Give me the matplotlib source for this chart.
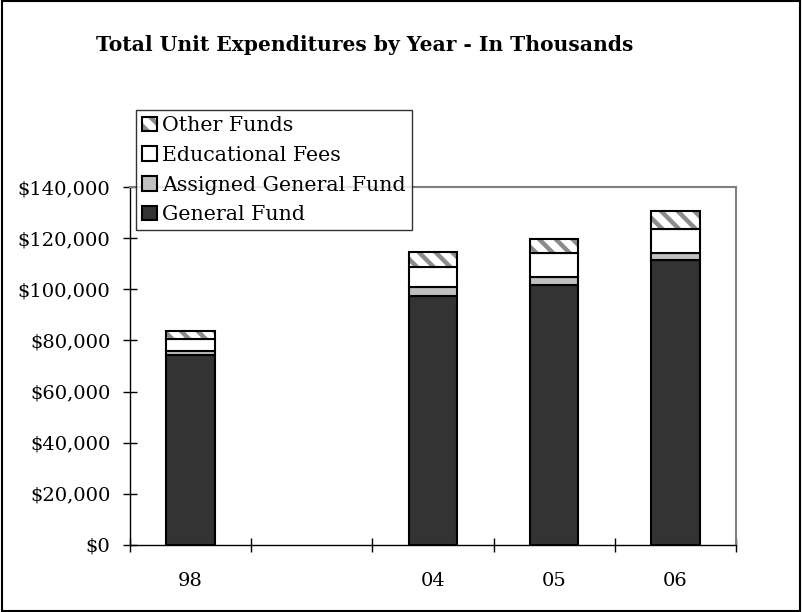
import matplotlib
matplotlib.use("Agg")
import matplotlib.pyplot as plt
import numpy as np
from matplotlib.patches import Patch, Rectangle
from matplotlib.ticker import FuncFormatter, FixedLocator

plt.rcParams['font.family'] = ['DejaVu Serif']
plt.rcParams['hatch.linewidth'] = 3.2

years = ["98", "", "04", "05", "06"]
general_fund = [74300, np.nan, 97500, 101700, 111500]
assigned_general_fund = [1600, np.nan, 3250, 3250, 2600]
educational_fees = [4700, np.nan, 7800, 9100, 9550]
other_funds = [2900, np.nan, 5900, 5500, 7150]

fig = plt.figure(figsize=(8.02, 6.12), dpi=100)
ax = fig.add_axes([130/802, 1-545/612, (736-130)/802, (545-187)/612])

x = np.arange(len(years))
w = 0.4
gf = np.array(general_fund)
agf = np.array(assigned_general_fund)
ef = np.array(educational_fees)
of = np.array(other_funds)

hatch_col = "#8c8c8c"
ax.bar(x, gf, w, color="#333333", edgecolor="black", linewidth=1.5, zorder=3)
ax.bar(x, agf, w, bottom=gf, color="#c0c0c0", edgecolor="black", linewidth=1.5, zorder=3)
ax.bar(x, ef, w, bottom=gf+agf, color="white", edgecolor="black", linewidth=1.5, zorder=3)
ax.bar(x, of, w, bottom=gf+agf+ef, color="white", edgecolor=hatch_col, hatch="\\\\", linewidth=0, zorder=3)
ax.bar(x, of, w, bottom=gf+agf+ef, fill=False, edgecolor="black", linewidth=1.5, zorder=4)

ax.set_xlim(-0.5, 4.5)
ax.set_ylim(0, 140000)
ax.yaxis.set_major_locator(FixedLocator(np.arange(0, 140001, 20000)))
ax.yaxis.set_major_formatter(FuncFormatter(lambda v, p: "${:,.0f}".format(v)))
ax.set_xticks(np.arange(-0.5, 4.6, 1.0))
ax.set_xticklabels([])
ax.set_xticks(x, minor=True)
ax.set_xticklabels(years, minor=True)
ax.tick_params(axis='x', which='minor', length=0, pad=19.5, labelsize=14)
ax.tick_params(axis='x', which='major', direction='inout', length=10, width=1)
ax.tick_params(axis='y', which='major', direction='inout', length=10, width=1, labelsize=14, pad=9)

for s in ['top', 'right']:
    ax.spines[s].set_color("#808080")
    ax.spines[s].set_linewidth(1.5)
for s in ['left', 'bottom']:
    ax.spines[s].set_color("black")
    ax.spines[s].set_linewidth(1)

h_other = (Patch(facecolor="white", edgecolor=hatch_col, hatch="\\\\", linewidth=0),
           Patch(fill=False, edgecolor="black", linewidth=1.5))
h_edu = Patch(facecolor="white", edgecolor="black", linewidth=1.5)
h_agf = Patch(facecolor="#c0c0c0", edgecolor="black", linewidth=1.5)
h_gf = Patch(facecolor="#333333", edgecolor="black", linewidth=1.5)
leg = fig.legend([h_other, h_edu, h_agf, h_gf],
                 ["Other Funds", "Educational Fees", "Assigned General Fund", "General Fund"],
                 loc="upper left", bbox_to_anchor=(136/802, 1-110/612),
                 fontsize=14.8, frameon=True, fancybox=False, edgecolor="black",
                 handlelength=0.72, handleheight=0.72, handletextpad=0.25,
                 labelspacing=0.52, borderpad=0.3, borderaxespad=0)
leg.get_frame().set_linewidth(1.0)
leg.set_zorder(10)

fig.text(365/802, 1-45/612, "Total Unit Expenditures by Year - In Thousands",
         ha="center", va="center", fontsize=14.6, fontweight="bold")

fig.patches.append(Rectangle((0.002, 0.002), 0.996, 0.996, transform=fig.transFigure,
                             fill=False, edgecolor="black", linewidth=1.5))

fig.savefig("out.png", dpi=100)
